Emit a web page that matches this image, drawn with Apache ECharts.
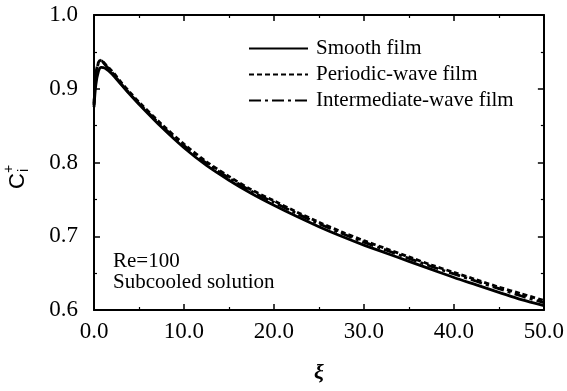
<!DOCTYPE html>
<html><head><meta charset="utf-8">
<script src="https://cdn.jsdelivr.net/npm/echarts@6/dist/echarts.min.js"></script>
<style>html,body{margin:0;padding:0;background:#fff}#c{width:567px;height:391px}</style>
</head><body><div id="c"></div>
<script>
var xi = [0, 0.2, 0.5, 0.8, 1.2, 2, 3, 4, 5, 7.5, 10, 12.5, 15, 17.5, 20, 22.5, 25, 27.5, 30, 32.5, 35, 37.5, 40, 42.5, 45, 47.5, 50];
var smoothFilm = [0.875, 0.905, 0.924, 0.929, 0.928, 0.920, 0.906, 0.892, 0.879, 0.848, 0.820, 0.796, 0.776, 0.758, 0.742, 0.727, 0.713, 0.700, 0.688, 0.677, 0.666, 0.655, 0.644, 0.634, 0.624, 0.614, 0.606];
var periodicFilm = [0.880, 0.920, 0.936, 0.939, 0.934, 0.924, 0.909, 0.895, 0.882, 0.852, 0.825, 0.801, 0.781, 0.763, 0.748, 0.733, 0.719, 0.706, 0.694, 0.683, 0.672, 0.661, 0.651, 0.641, 0.631, 0.622, 0.613];
var intermediateFilm = [0.878, 0.918, 0.935, 0.938, 0.933, 0.922, 0.907, 0.893, 0.880, 0.850, 0.823, 0.799, 0.779, 0.761, 0.746, 0.731, 0.717, 0.704, 0.692, 0.681, 0.670, 0.659, 0.649, 0.639, 0.629, 0.619, 0.610];
var seriesNames = ['Smooth film', 'Periodic-wave film', 'Intermediate-wave film'];
var xTickLabels = ['0.0','10.0','20.0','30.0','40.0','50.0'];
var yTickLabels = ['0.6','0.7','0.8','0.9','1.0'];

function pairs(ys){ return xi.map(function(x,i){ return [x, ys[i]]; }); }
var serif = 'Liberation Serif';
var axisCommon = {
  axisLine:{show:true, onZero:false, lineStyle:{color:'#000', width:2}},
  axisTick:{show:true, inside:true, length:6, lineStyle:{color:'#000', width:1.5}},
  minorTick:{show:true, splitNumber:2, length:3, lineStyle:{color:'#000', width:1.2}},
  splitLine:{show:false}
};
var chart = echarts.init(document.getElementById('c'));
chart.setOption({
  animation:false,
  grid:{left:94, right:22, top:15, bottom:81},
  legend:{
    data:seriesNames, orient:'vertical', left:243, top:33, itemWidth:59, itemHeight:14, itemGap:5,
    itemStyle:{opacity:0},
    textStyle:{fontFamily:serif, fontSize:21, color:'#000', padding:[0,0,0,3]}
  },
  xAxis:[
    Object.assign({type:'value', min:0, max:50, interval:10, position:'bottom',
      axisLabel:{fontFamily:serif, fontSize:23, color:'#000', margin:10,
        formatter:function(v){ return xTickLabels[Math.round(v/10)]; }},
      name:'ξ', nameLocation:'middle', nameGap:52,
      nameTextStyle:{fontFamily:serif, fontSize:22, fontStyle:'italic', fontWeight:'bold', color:'#000'}}, axisCommon),
    Object.assign({type:'value', min:0, max:50, interval:10, position:'top', axisLabel:{show:false}}, axisCommon)
  ],
  yAxis:[
    Object.assign({type:'value', min:0.6, max:1.0, interval:0.1, position:'left',
      axisLabel:{fontFamily:serif, fontSize:23, color:'#000', margin:16,
        formatter:function(v){ return yTickLabels[Math.round((v-0.6)*10)]; }}}, axisCommon),
    Object.assign({type:'value', min:0.6, max:1.0, interval:0.1, position:'right', axisLabel:{show:false}}, axisCommon)
  ],
  graphic:[
    {type:'text', left:113, top:251, style:{text:'Re=100', font:'21px "Liberation Serif"', fill:'#000'}},
    {type:'text', left:113, top:272, style:{text:'Subcooled solution', font:'21px "Liberation Serif"', fill:'#000'}},
    {type:'group', x:29, y:189, rotation:Math.PI/2, children:[
      {type:'text', x:0, y:0, style:{text:'C', font:'22px "Liberation Sans"', fill:'#000', textVerticalAlign:'bottom'}},
      {type:'text', x:16, y:-13, style:{text:'+', font:'14px "Liberation Sans"', fill:'#000', textVerticalAlign:'bottom'}},
      {type:'text', x:17, y:2, style:{text:'i', font:'14px "Liberation Sans"', fill:'#000', textVerticalAlign:'bottom'}}
    ]}
  ],
  series:[
    {name:seriesNames[0], type:'line', data:pairs(smoothFilm), smooth:0.3, symbol:'none', z:3,
      lineStyle:{color:'#000', width:2.8, type:'solid'}, itemStyle:{color:'#000'}},
    {name:seriesNames[1], type:'line', data:pairs(periodicFilm), smooth:0.3, symbol:'none',
      lineStyle:{color:'#000', width:2.8, type:[5,3]}, itemStyle:{color:'#000'}},
    {name:seriesNames[2], type:'line', data:pairs(intermediateFilm), smooth:0.3, symbol:'none',
      lineStyle:{color:'#000', width:2.8, type:[12,4,3,4]}, itemStyle:{color:'#000'}}
  ]
});
</script></body></html>
